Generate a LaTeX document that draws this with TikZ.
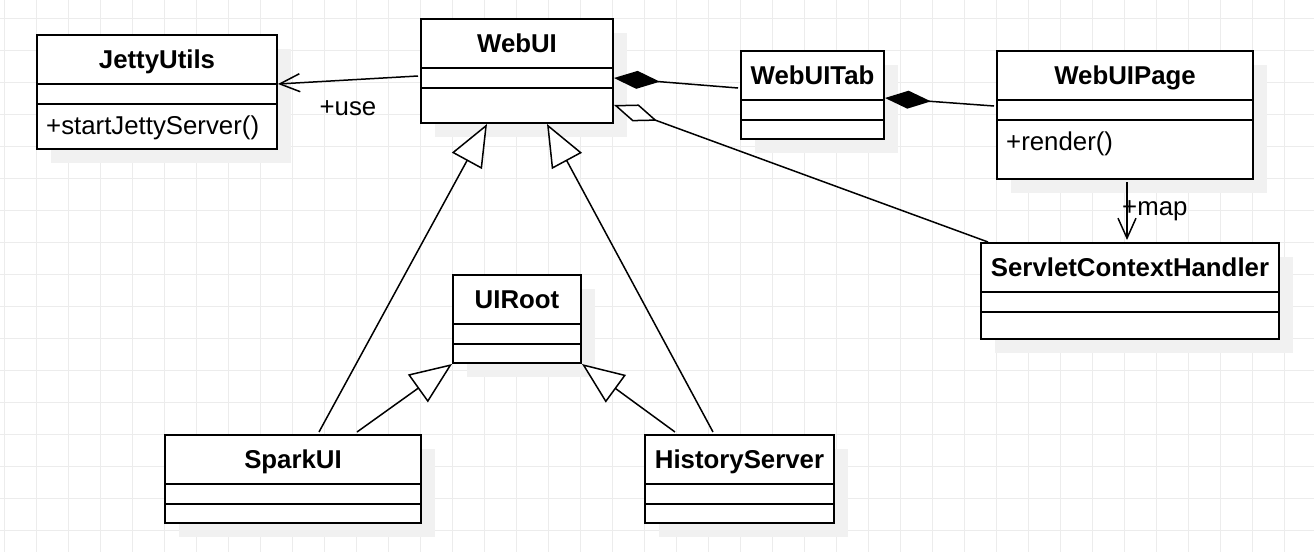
\documentclass[tikz,border=0pt]{standalone}
\usepackage{fontspec}
\setmainfont{Liberation Sans}
\usetikzlibrary{arrows.meta,shadows,calc}

\definecolor{gridgray}{HTML}{ECECEC}
\definecolor{shadowgray}{HTML}{F1F1F1}

\tikzset{
  classbox/.style={draw, line width=2pt, fill=white, anchor=north west, inner sep=0pt,
    drop shadow={shadow xshift=14pt, shadow yshift=-14pt, fill=shadowgray, opacity=1, draw=none}},
  classtitle/.style={anchor=base, inner sep=0pt, font=\fontsize{25.8}{30}\selectfont\bfseries},
  classop/.style={anchor=base west, inner sep=0pt, font=\fontsize{25.8}{30}\selectfont},
  classline/.style={line width=2pt},
  conn/.style={line width=1.5pt},
  connlabel/.style={inner sep=0pt, font=\fontsize{25.8}{30}\selectfont},
  gridline/.style={draw=gridgray, line width=1pt},
  uses/.style={conn, -{Straight Barb[length=20pt, width=18pt]}},
  composition/.style={conn, {Diamond[length=46pt, width=18pt]}-},
  aggregation/.style={conn, {Diamond[open, fill=white, length=46pt, width=18pt]}-},
  inherit/.style={conn, -{Triangle[open, fill=white, length=42pt, width=34pt]}}
}

% name, top left corner, width, height, operation
\newcommand{\umlclass}[5]{%
  \node[classbox, minimum width=#3pt, minimum height=#4pt] (#1) at (#2) {};
  \node[classtitle] (#1-title) at ($(#1.north)+(0,34)$) {#1};
  \draw[classline] ($(#1.north west)+(0,50)$) -- ($(#1.north east)+(0,50)$);
  \draw[classline] ($(#1.north west)+(0,70)$) -- ($(#1.north east)+(0,70)$);
  \node[classop] (#1-op) at ($(#1.north west)+(10,100)$) {#5};
}

\begin{document}
\begin{tikzpicture}[x=1pt, y=-1pt]
  \useasboundingbox[fill=white] (0,0) rectangle (1314,552);
  \foreach \gx in {4,36,...,1314}
    \draw[gridline] (\gx,0) -- (\gx,552);
  \foreach \gy in {18,50,...,552}
    \draw[gridline] (0,\gy) -- (1314,\gy);

  \umlclass{JettyUtils}{36,34}{240}{114}{+startJettyServer()}
  \umlclass{WebUI}{420,18}{192}{104}{}
  \umlclass{WebUITab}{740,50}{143}{88}{}
  \umlclass{WebUIPage}{996,50}{256}{128}{+render()}
  \umlclass{ServletContextHandler}{980,242}{298}{96}{}
  \umlclass{UIRoot}{452,274}{128}{88}{}
  \umlclass{SparkUI}{164,434}{256}{88}{}
  \umlclass{HistoryServer}{644,434}{189}{88}{}

  \draw[uses] ($(WebUI.north west)+(-2,58)$) -- ($(JettyUtils.north east)+(0,50)$);
  \node[connlabel, anchor=base] (uselabel) at (348,115) {+use};
  \draw[composition] ($(WebUI.north east)+(0,60)$) -- ($(WebUITab.north west)+(-2,38)$);
  \draw[composition] ($(WebUITab.north east)+(0,48)$) -- ($(WebUIPage.north west)+(-2,56)$);
  \draw[aggregation] ($(WebUI.north east)+(0,87)$) -- ($(ServletContextHandler.north west)+(8,0)$);
  \draw[uses] ($(WebUIPage.south)+(2,2)$) -- ($(ServletContextHandler.north)+(-3,-2)$);
  \node[connlabel, anchor=base west] (maplabel) at (1122,215) {+map};
  \draw[inherit] ($(SparkUI.north)+(26,-2)$) -- ($(WebUI.south)+(-30,0)$);
  \draw[inherit] ($(HistoryServer.north)+(-26.5,-2)$) -- ($(WebUI.south)+(30,0)$);
  \draw[inherit] ($(SparkUI.north)+(64,-2)$) -- (UIRoot.south west);
  \draw[inherit] ($(HistoryServer.north)+(-64.5,-2)$) -- (UIRoot.south east);
\end{tikzpicture}
\end{document}
